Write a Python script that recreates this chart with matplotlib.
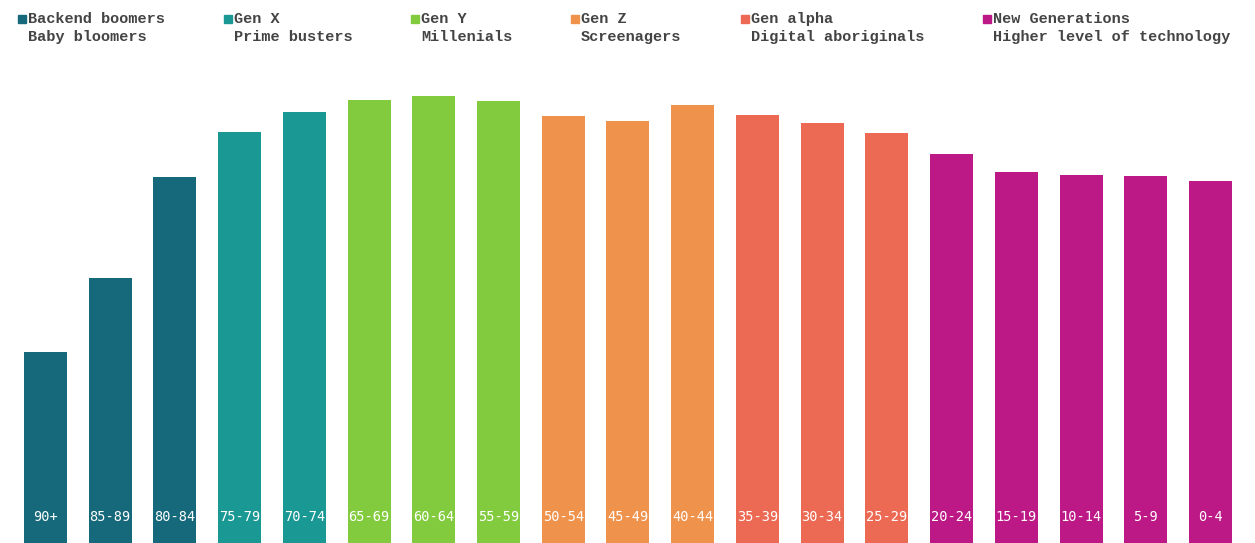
import matplotlib as mpl
mpl.use("Agg")
import matplotlib.pyplot as plt
from matplotlib.patches import Rectangle

# age bands, oldest first, with bar heights (arbitrary units)
ages = ["90+", "85-89", "80-84", "75-79", "70-74", "65-69", "60-64", "55-59", "50-54",
        "45-49", "40-44", "35-39", "30-34", "25-29", "20-24", "15-19", "10-14", "5-9", "0-4"]
values = [191, 265, 366, 411, 431, 443, 447, 442, 427, 422, 438, 428, 420, 410,
          389, 371, 368, 367, 362]
group_of = [0, 0, 0, 1, 1, 2, 2, 2, 3, 3, 3, 4, 4, 4, 5, 5, 5, 5, 5]

group_names = ["Backend boomers", "Gen X", "Gen Y", "Gen Z", "Gen alpha", "New Generations"]
group_subs = ["Baby bloomers", "Prime busters", "Millenials", "Screenagers",
              "Digital aboriginals", "Higher level of technology"]
group_colors = ["#15697A", "#1A9893", "#83CB3E", "#EF924C", "#EC6A54", "#BC1886"]

W, H = 1255, 543
fig = plt.figure(figsize=(W / 100, H / 100), dpi=100)
fig.patch.set_facecolor("white")

ax = fig.add_axes([0, 0, 1, 1])
step = 64.72
x0 = 45.5 / step
ax.set_xlim(-x0, -x0 + W / step)
ax.set_ylim(0, H)
ax.axis("off")

xs = list(range(len(ages)))
cols = [group_colors[g] for g in group_of]
ax.bar(xs, values, width=0.665, color=cols, edgecolor="none")
for x, lab in zip(xs, ages):
    ax.text(x, 26, lab, ha="center", va="center", color="white",
            family="DejaVu Sans Mono", fontsize=9.8)

# hand-drawn legend across the top
leg_x = [18, 224, 411, 571, 741, 983]
for lx, name, sub, c in zip(leg_x, group_names, group_subs, group_colors):
    fig.patches.append(Rectangle((lx / W, 1 - 22.5 / H), 7.5 / W, 7.5 / H,
                                 transform=fig.transFigure, color=c, figure=fig))
    fig.text((lx + 10) / W, 1 - 19 / H, name, ha="left", va="center",
             family="Liberation Mono", fontweight="bold", fontsize=11, color="#444444")
    fig.text((lx + 10) / W, 1 - 37 / H, sub, ha="left", va="center",
             family="Liberation Mono", fontweight="bold", fontsize=11, color="#444444")

fig.savefig("out.png", dpi=100, facecolor="white")
